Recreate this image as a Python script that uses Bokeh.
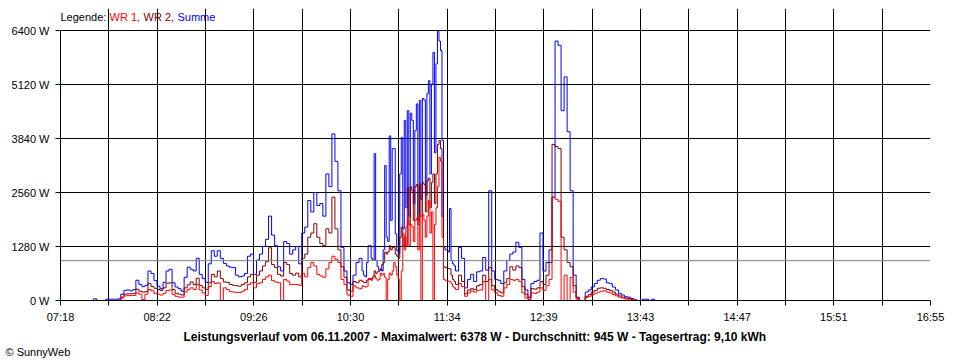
from bokeh.plotting import figure
from bokeh.models import Range1d, FixedTicker, Span, Label, PrintfTickFormatter, Title
from bokeh.embed import file_html
from bokeh.resources import INLINE

# ---------------- data ----------------
x_tick_labels = ["07:18", "08:22", "09:26", "10:30", "11:34",
                 "12:39", "13:43", "14:47", "15:51", "16:55"]
y_ticks = [0, 1280, 2560, 3840, 5120, 6400]
average_w = 945

# three sampling blocks: (start time, step in minutes)
morning_start, morning_step = "07:38", 2
midday_start, midday_step = "10:38", 1
afternoon_start, afternoon_step = "11:40", 2

wr1_morning = [0, 0, 0, 0, 0, 0, 0, 0, 0, 0,
               60, 110, 115, 120, 120, 180, 150, 20, 150, 260,
               230, 170, 150, 130, 170, 240, 250, 140, 100, 80,
               80, 200, 260, 300, 260, 380, 250, 180, 120, 330,
               450, 400, 420, 0, 300, 260, 210, 200, 190, 190,
               220, 260, 380, 420, 300, 400, 420, 500, 560, 600,
               470, 440, 420, 0, 500, 460, 380, 380, 380, 360,
               640, 560, 780, 900, 820, 620, 580, 550, 750, 900,
               1050, 980, 900, 500, 380, 130, 100, 350, 300, 280]
wr1_midday = [350, 330, 320, 330, 500, 520, 480, 560, 600, 520, 480, 500, 650,
              600, 640, 550, 0, 500, 650, 600, 700, 900, 800, 600, 500, 0,
              700, 1580, 1200, 1740, 1900, 1300, 1800, 1750, 1400, 1900, 1950,
              1200, 2000, 0, 2050, 1900, 1500, 2000, 2370, 1600, 2100, 0,
              1800, 2200, 2700, 3390, 3300, 1500, 500, 480, 470, 460, 450,
              400, 330, 300]
wr1_afternoon = [260, 400, 330, 100, 180, 230, 200, 240, 250,
                 450, 0, 500, 250, 180, 120, 100, 300, 380, 500,
                 480, 500, 450, 180, 60, 20, 180, 170, 200, 300,
                 240, 350, 500, 2450, 2400, 2350, 0, 600, 0, 550,
                 200, 30, 0, 0, 70, 100, 140, 170, 200, 220,
                 230, 200, 180, 140, 110, 80, 60, 40, 30, 20,
                 10, 0, 0, 0, 0, 0, 0, 0, 0, 0,
                 0]

wr2_morning = [0, 0, 0, 0, 0, 0, 0, 0, 0, 10,
               80, 150, 160, 160, 170, 270, 220, 200, 210, 400,
               330, 290, 260, 240, 300, 410, 420, 260, 170, 150,
               130, 300, 370, 440, 380, 530, 360, 300, 260, 420,
               620, 560, 700, 520, 440, 430, 380, 360, 350, 340,
               380, 420, 560, 620, 430, 600, 700, 820, 920, 1250,
               850, 780, 620, 580, 900, 850, 640, 600, 650, 560,
               1000, 1100, 1500, 1600, 1820, 1500, 1350, 1300, 1700, 1600,
               2450, 1700, 1200, 800, 550, 250, 220, 450, 420, 480]
wr2_midday = [450, 430, 420, 480, 520, 500, 520, 560, 700, 640, 680, 700, 720,
              850, 900, 1150, 1100, 1150, 1300, 1200, 1260, 1250, 1100, 1050,
              1000, 1500, 1740, 1300, 1500, 1300, 2680, 1800, 2700, 2600, 1900,
              2700, 2750, 1800, 2770, 2000, 2800, 2750, 2100, 2840, 2900, 2200,
              2800, 3000, 2300, 3000, 3700, 3790, 3600, 2000, 800, 780, 770,
              760, 750, 600, 500, 450]
wr2_afternoon = [380, 600, 450, 160, 250, 280, 260, 350, 380,
                 600, 450, 780, 350, 260, 220, 180, 420, 520, 800,
                 720, 820, 780, 330, 150, 80, 280, 270, 300, 450,
                 380, 600, 900, 3700, 3650, 3600, 1500, 1200, 900, 800,
                 350, 60, 0, 0, 100, 140, 200, 240, 290, 300,
                 290, 260, 240, 200, 150, 110, 80, 60, 50, 30,
                 10, 0, 0, 0, 0, 0, 0, 0, 0, 0,
                 0]

summe_morning = [0, 40, 0, 0, 0, 30, 30, 30, 30, 40,
                 150, 240, 250, 230, 260, 480, 380, 330, 360, 700,
                 640, 470, 340, 280, 430, 700, 740, 420, 320, 280,
                 220, 550, 790, 740, 700, 1000, 620, 520, 430, 870,
                 1180, 1050, 1180, 1000, 880, 820, 790, 780, 600, 560,
                 580, 640, 1050, 1100, 620, 960, 1100, 1280, 1450, 2000,
                 1550, 1300, 800, 700, 1400, 1350, 1100, 1200, 1280, 870,
                 1600, 1740, 2370, 2100, 2560, 2250, 2300, 2000, 3000, 2700,
                 3950, 3300, 2600, 1260, 700, 420, 380, 600, 900, 1000]
summe_midday = [700, 600, 560, 900, 1300, 1300, 1000, 950, 3480, 950, 800, 720, 750,
                700, 1200, 3200, 1500, 1400, 3900, 1900, 3600, 3600, 1580, 1180,
                1110, 3000, 3860, 1700, 4270, 2200, 4500, 2000, 4440, 4270, 2300,
                4030, 4660, 1900, 4740, 2400, 4790, 4750, 2500, 4900, 5210, 3000,
                5130, 5880, 3500, 5610, 6378, 6150, 5925, 3790, 1260, 1200, 1200,
                1150, 2180, 950, 870, 820]
summe_afternoon = [700, 1260, 1000, 300, 500, 620, 450, 680, 700,
                   1020, 720, 2600, 700, 500, 480, 400, 700, 950, 1100,
                   1150, 1380, 1260, 500, 250, 60, 400, 450, 480, 1600,
                   700, 900, 1200, 2450, 6150, 6050, 4500, 5300, 4000, 2600,
                   600, 80, 0, 0, 200, 250, 320, 400, 480, 520,
                   510, 420, 400, 320, 250, 170, 130, 90, 80, 50,
                   20, 0, 0, 30, 30, 0, 30, 0, 0, 0,
                   0]

legend_parts = [("Legende:", "#000000"), ("WR 1,", "#FF0000"),
                ("WR 2,", "#800000"), ("Summe", "#0000FF")]
title_text = ("Leistungsverlauf vom 06.11.2007 - Maximalwert: 6378 W - "
              "Durchschnitt: 945 W - Tagesertrag: 9,10 kWh")
credit_text = "\u00a9 SunnyWeb"


# ---------------- helpers ----------------
def to_min(s):
    h, m = s.split(":")
    return int(h) * 60 + int(m)


t_first = to_min(x_tick_labels[0])
t_last = to_min(x_tick_labels[-1])
n_int = 2 * (len(x_tick_labels) - 1)           # tick intervals (major + minor)
per_tick = (t_last - t_first) / n_int           # minutes per tick interval


def block_x(start, step, n):
    t0 = to_min(start)
    return [((t0 + step * i) - t_first) / per_tick for i in range(n)]


def series(morning, midday, afternoon):
    xs = (block_x(morning_start, morning_step, len(morning))
          + block_x(midday_start, midday_step, len(midday))
          + block_x(afternoon_start, afternoon_step, len(afternoon)))
    return xs, morning + midday + afternoon


FONT = "Liberation Sans"

# layout geometry (pixels)
W, H = 952, 360
B_LEFT, B_RIGHT, B_TOP, B_BOTTOM = 60, 22, 8, 60
DATA_PX = 270                          # pixel height of the 0..6400 W band
EXTRA_TOP = (H - B_TOP - B_BOTTOM) - DATA_PX   # frame room above 6400 W for the legend
y_top = y_ticks[-1] * (DATA_PX + EXTRA_TOP) / DATA_PX

p = figure(width=W, height=H, output_backend="svg", toolbar_location=None,
           x_range=Range1d(0, n_int), y_range=Range1d(0, y_top),
           min_border_left=B_LEFT, min_border_right=B_RIGHT,
           min_border_top=B_TOP, min_border_bottom=B_BOTTOM)
p.title.visible = False
p.title.standoff = 0
p.background_fill_color = "white"
p.border_fill_color = "white"
p.outline_line_color = None

# x axis
xt = FixedTicker(ticks=list(range(0, n_int + 1, 2)),
                 minor_ticks=list(range(1, n_int, 2)))
p.xaxis.ticker = xt
p.xaxis.major_label_overrides = {2 * k: lab for k, lab in enumerate(x_tick_labels)}
p.xaxis.major_tick_in = 0
p.xaxis.major_tick_out = 5
p.xaxis.minor_tick_in = 0
p.xaxis.minor_tick_out = 5
p.xaxis.major_tick_line_color = "black"
p.xaxis.minor_tick_line_color = "black"
p.xaxis.axis_line_color = "black"
p.xaxis.major_label_standoff = 5
p.xaxis.major_label_text_font = FONT
p.xaxis.major_label_text_font_size = "11px"
p.xaxis.major_label_text_color = "black"

# y axis
p.yaxis.ticker = FixedTicker(ticks=y_ticks)
p.yaxis.bounds = (y_ticks[0], y_ticks[-1])
p.yaxis.formatter = PrintfTickFormatter(format="%d W")
p.yaxis.major_tick_in = 0
p.yaxis.major_tick_out = 5
p.yaxis.minor_tick_line_color = None
p.yaxis.major_tick_line_color = "black"
p.yaxis.axis_line_color = "black"
p.yaxis.major_label_standoff = 6
p.yaxis.major_label_text_font = FONT
p.yaxis.major_label_text_font_size = "11px"
p.yaxis.major_label_text_color = "black"

# grids
p.xgrid.ticker = xt
p.xgrid.bounds = (y_ticks[0], y_ticks[-1])
p.xgrid.grid_line_color = "black"
p.xgrid.minor_grid_line_color = "black"
p.xgrid.grid_line_alpha = 1
p.ygrid.ticker = FixedTicker(ticks=y_ticks)
p.ygrid.bounds = (0, n_int)
p.ygrid.grid_line_color = "black"
p.ygrid.grid_line_alpha = 1

# average line
p.add_layout(Span(location=average_w, dimension="width",
                  line_color="#808080", line_width=1))

# series
xs_s, ys_s = series(summe_morning, summe_midday, summe_afternoon)
xs_2, ys_2 = series(wr2_morning, wr2_midday, wr2_afternoon)
xs_1, ys_1 = series(wr1_morning, wr1_midday, wr1_afternoon)
p.step(xs_s, ys_s, mode="after", line_color="#0000FF", line_width=1)
p.step(xs_2, ys_2, mode="after", line_color="#800000", line_width=1)
p.step(xs_1, ys_1, mode="after", line_color="#FF0000", line_width=1)

# legend text inside the frame's top strip (screen units: frame bottom-left origin)
legend_x = [0, 49, 83, 117]
legend_y = DATA_PX + 13.5
for (txt, col), lx in zip(legend_parts, legend_x):
    p.add_layout(Label(x=lx, y=legend_y, x_units="screen", y_units="screen",
                       text=txt, text_color=col, text_font=FONT,
                       text_font_size="11px", text_baseline="middle",
                       text_align="left"))

# bottom texts as titles in the lower side panel
p.add_layout(Title(text=title_text, align="left", offset=123, standoff=4,
                   text_font=FONT, text_font_size="12px", text_font_style="bold",
                   text_color="black"), "below")
p.add_layout(Title(text=credit_text, align="left", offset=-55, standoff=0,
                   vertical_align="top",
                   text_font=FONT, text_font_size="11px", text_font_style="normal",
                   text_color="black"), "below")

open("out.html", "w").write(file_html(p, INLINE))
